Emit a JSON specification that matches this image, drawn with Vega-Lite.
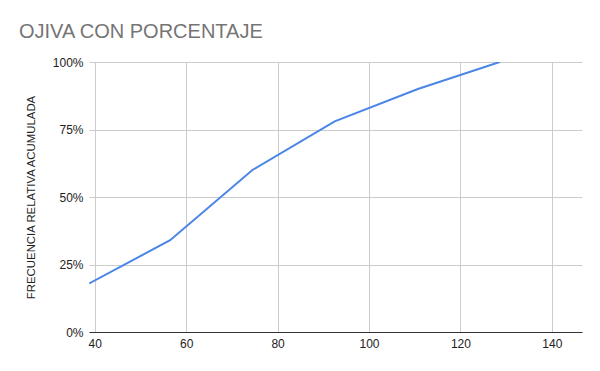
{
  "$schema": "https://vega.github.io/schema/vega-lite/v6.json",
  "width": 493,
  "height": 270,
  "autosize": {"type": "none"},
  "padding": {"left": 89, "top": 62, "right": 18, "bottom": 39},
  "background": "white",
  "title": {
    "text": "OJIVA CON PORCENTAJE",
    "anchor": "start",
    "frame": "group",
    "dx": -70,
    "offset": 14,
    "font": "Liberation Sans",
    "fontSize": 20,
    "fontWeight": "normal",
    "color": "#757575"
  },
  "data": {
    "values": [
      {"x": 38.8, "y": 0.18},
      {"x": 56.5, "y": 0.34},
      {"x": 74.5, "y": 0.60},
      {"x": 92.5, "y": 0.78},
      {"x": 110.7, "y": 0.90},
      {"x": 128.6, "y": 1.00}
    ]
  },
  "mark": {"type": "line", "color": "#4a86e8", "strokeWidth": 2, "clip": true},
  "encoding": {
    "x": {
      "field": "x",
      "type": "quantitative",
      "scale": {"domain": [38.75, 146.6], "nice": false, "zero": false},
      "axis": {
        "title": null,
        "values": [40, 60, 80, 100, 120, 140],
        "domainColor": "#333333",
        "ticks": false,
        "gridColor": "#cccccc",
        "labelFont": "Liberation Sans",
        "labelFontSize": 12,
        "labelColor": "#222222",
        "labelPadding": 6,
        "labelFlush": false
      }
    },
    "y": {
      "field": "y",
      "type": "quantitative",
      "scale": {"domain": [0, 1], "nice": false},
      "axis": {
        "title": "FRECUENCIA RELATIVA ACUMULADA",
        "titleFont": "Liberation Sans",
        "titleFontSize": 11.4,
        "titleFontWeight": "normal",
        "titleColor": "#222222",
        "titlePadding": 16,
        "values": [0, 0.25, 0.5, 0.75, 1],
        "format": ".0%",
        "domain": false,
        "ticks": false,
        "gridColor": "#cccccc",
        "labelFont": "Liberation Sans",
        "labelFontSize": 12,
        "labelColor": "#222222",
        "labelPadding": 6
      }
    }
  },
  "config": {"view": {"stroke": null}}
}
